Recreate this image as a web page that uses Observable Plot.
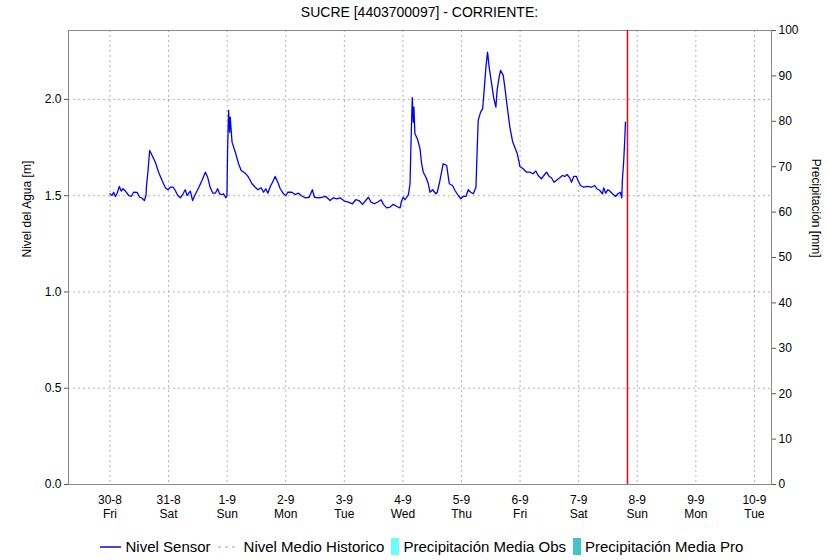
<!DOCTYPE html>
<html>
<head>
<meta charset="utf-8">
<script src="https://cdn.jsdelivr.net/npm/d3@7"></script>
<script src="https://cdn.jsdelivr.net/npm/@observablehq/plot@0.6"></script>
<style>
  html, body { margin: 0; padding: 0; background: #fff; }
  #wrap { position: relative; width: 828px; height: 560px; font-family: "Liberation Sans", Arial, sans-serif; }
  #title { position: absolute; top: 4px; left: 68px; width: 703px; text-align: center; font-size: 14px; color: #000; }
  #legend { position: absolute; top: 538px; left: 0; width: 850px; display: flex; justify-content: center; align-items: center; font-size: 15px; color: #000; white-space: nowrap; }
  .li { display: flex; align-items: center; margin-right: 7px; }
  .sw { display: inline-block; margin-right: 4px; }
  svg { font-family: "Liberation Sans", Arial, sans-serif; }
</style>
</head>
<body>
<div id="wrap">
  <div id="chart"></div>
  <div id="title"></div>
  <div id="legend"></div>
</div>
<script>
// ---- data ----
const titleText = "SUCRE [4403700097] - CORRIENTE:";
const yLabel = "Nivel del Agua [m]";
const y2Label = "Precipitación [mm]";
const seriesNames = ["Nivel Sensor", "Nivel Medio Historico", "Precipitación Media Obs", "Precipitación Media Pro"];
const seriesColors = ["#0000ff", "#c0c0c0", "#66ffff", "#44c4c4"];
const nowColor = "red";

const domainStart = "2024-08-29 07:00";
const domainEnd = "2024-09-10 07:00";
const currentTime = "2024-09-07 20:00";
const yMax = 2.358;
const y2Max = 100;

const dayTicks = ["2024-08-30","2024-08-31","2024-09-01","2024-09-02","2024-09-03","2024-09-04","2024-09-05","2024-09-06","2024-09-07","2024-09-08","2024-09-09","2024-09-10"];
const dayLabels = ["30-8","31-8","1-9","2-9","3-9","4-9","5-9","6-9","7-9","8-9","9-9","10-9"];
const weekdayLabels = ["Fri","Sat","Sun","Mon","Tue","Wed","Thu","Fri","Sat","Sun","Mon","Tue"];
const levelTicks = [0, 0.5, 1.0, 1.5, 2.0];
const precipTicks = [0,10,20,30,40,50,60,70,80,90,100];
const historicLevel = [0];

const times = [
"2024-08-30 00:00","2024-08-30 00:50","2024-08-30 01:30","2024-08-30 02:15","2024-08-30 02:55","2024-08-30 03:50","2024-08-30 04:35","2024-08-30 05:20","2024-08-30 06:20","2024-08-30 07:40",
"2024-08-30 08:40","2024-08-30 09:40","2024-08-30 11:05","2024-08-30 12:10","2024-08-30 13:10","2024-08-30 14:05","2024-08-30 14:45","2024-08-30 14:55","2024-08-30 15:35","2024-08-30 16:15",
"2024-08-30 17:15","2024-08-30 18:35","2024-08-30 19:55","2024-08-30 21:20","2024-08-30 22:40","2024-08-30 23:45","2024-08-31 00:45","2024-08-31 01:50","2024-08-31 02:45","2024-08-31 03:45",
"2024-08-31 04:50","2024-08-31 05:55","2024-08-31 06:50","2024-08-31 07:35","2024-08-31 08:15","2024-08-31 08:55","2024-08-31 09:50","2024-08-31 10:55","2024-08-31 12:20","2024-08-31 13:40",
"2024-08-31 15:05","2024-08-31 16:00","2024-08-31 17:05","2024-08-31 18:10","2024-08-31 19:10","2024-08-31 20:05","2024-08-31 20:55","2024-08-31 21:50","2024-08-31 22:30","2024-08-31 23:30",
"2024-08-31 23:55","2024-09-01 00:10","2024-09-01 00:35","2024-09-01 01:00","2024-09-01 01:15","2024-09-01 02:00","2024-09-01 03:20","2024-09-01 04:40","2024-09-01 05:45","2024-09-01 07:25",
"2024-09-01 08:45","2024-09-01 10:10","2024-09-01 11:30","2024-09-01 12:35","2024-09-01 13:55","2024-09-01 14:55","2024-09-01 15:50","2024-09-01 16:40","2024-09-01 17:40","2024-09-01 18:35",
"2024-09-01 19:40","2024-09-01 20:45","2024-09-01 21:45","2024-09-01 23:05","2024-09-02 00:05","2024-09-02 00:50","2024-09-02 02:30","2024-09-02 03:50","2024-09-02 05:15","2024-09-02 06:20",
"2024-09-02 07:55","2024-09-02 09:35","2024-09-02 10:55","2024-09-02 11:45","2024-09-02 13:25","2024-09-02 15:00","2024-09-02 16:25","2024-09-02 18:10","2024-09-02 19:30","2024-09-02 20:55",
"2024-09-02 22:15","2024-09-03 00:00","2024-09-03 01:40","2024-09-03 03:20","2024-09-03 04:40","2024-09-03 06:00","2024-09-03 07:25","2024-09-03 08:45","2024-09-03 09:50","2024-09-03 10:55",
"2024-09-03 12:20","2024-09-03 13:40","2024-09-03 15:05","2024-09-03 16:00","2024-09-03 17:20","2024-09-03 18:45","2024-09-03 20:05","2024-09-03 21:30","2024-09-03 22:50","2024-09-03 23:30",
"2024-09-04 00:10","2024-09-04 00:50","2024-09-04 02:15","2024-09-04 02:55","2024-09-04 03:20","2024-09-04 03:50","2024-09-04 04:15","2024-09-04 04:30","2024-09-04 04:55","2024-09-04 05:55",
"2024-09-04 07:00","2024-09-04 07:40","2024-09-04 08:20","2024-09-04 09:25","2024-09-04 10:25","2024-09-04 11:05","2024-09-04 12:10","2024-09-04 13:30","2024-09-04 14:05","2024-09-04 15:10",
"2024-09-04 16:30","2024-09-04 17:55","2024-09-04 19:00","2024-09-04 20:20","2024-09-04 21:20","2024-09-04 22:40","2024-09-04 23:45","2024-09-05 00:40","2024-09-05 01:50","2024-09-05 02:45",
"2024-09-05 03:45","2024-09-05 04:50","2024-09-05 05:55","2024-09-05 06:25","2024-09-05 06:50","2024-09-05 07:50","2024-09-05 08:40","2024-09-05 09:10","2024-09-05 10:00","2024-09-05 10:40",
"2024-09-05 11:20","2024-09-05 12:20","2024-09-05 13:15","2024-09-05 14:05","2024-09-05 14:35","2024-09-05 15:25","2024-09-05 16:00","2024-09-05 17:05","2024-09-05 17:45","2024-09-05 18:45",
"2024-09-05 19:50","2024-09-05 20:55","2024-09-05 21:50","2024-09-05 22:50","2024-09-05 23:35","2024-09-05 23:55","2024-09-06 01:15","2024-09-06 02:40","2024-09-06 04:00","2024-09-06 05:20",
"2024-09-06 06:25","2024-09-06 07:25","2024-09-06 08:45","2024-09-06 09:45","2024-09-06 10:50","2024-09-06 11:55","2024-09-06 12:50","2024-09-06 13:55","2024-09-06 15:10","2024-09-06 16:15",
"2024-09-06 17:20","2024-09-06 18:20","2024-09-06 19:15","2024-09-06 20:20","2024-09-06 21:05","2024-09-06 22:00","2024-09-06 23:05","2024-09-06 23:45","2024-09-07 00:45","2024-09-07 02:05",
"2024-09-07 03:25","2024-09-07 05:15","2024-09-07 06:35","2024-09-07 07:30","2024-09-07 08:40","2024-09-07 09:45","2024-09-07 10:15","2024-09-07 11:05","2024-09-07 12:00","2024-09-07 12:45",
"2024-09-07 13:50","2024-09-07 15:10","2024-09-07 16:05","2024-09-07 17:05","2024-09-07 17:40","2024-09-07 17:55","2024-09-07 18:25","2024-09-07 18:50","2024-09-07 19:10"
];
const levels = [
1.510,1.501,1.518,1.496,1.513,1.548,1.524,1.536,1.524,1.501,
1.496,1.518,1.517,1.492,1.487,1.475,1.501,1.544,1.631,1.735,
1.709,1.674,1.622,1.579,1.541,1.531,1.544,1.544,1.527,1.501,
1.489,1.510,1.531,1.501,1.513,1.524,1.475,1.506,1.541,1.579,
1.622,1.596,1.541,1.513,1.513,1.536,1.510,1.506,1.510,1.489,
1.501,1.735,1.943,1.830,1.908,1.778,1.726,1.666,1.631,1.617,
1.596,1.562,1.544,1.531,1.541,1.518,1.536,1.513,1.548,1.570,
1.600,1.570,1.536,1.510,1.501,1.518,1.518,1.506,1.513,1.501,
1.489,1.492,1.531,1.492,1.489,1.492,1.496,1.475,1.489,1.484,
1.489,1.472,1.467,1.458,1.479,1.475,1.455,1.475,1.492,1.467,
1.458,1.467,1.479,1.455,1.437,1.441,1.455,1.444,1.437,1.475,
1.492,1.479,1.506,1.562,1.787,2.009,1.882,1.960,1.822,1.796,
1.744,1.666,1.622,1.596,1.562,1.518,1.531,1.510,1.518,1.579,
1.666,1.657,1.562,1.553,1.527,1.501,1.484,1.496,1.496,1.531,
1.518,1.510,1.544,1.735,1.891,1.934,1.952,2.030,2.168,2.246,
2.168,2.082,2.004,1.960,2.047,2.116,2.151,2.125,2.064,1.960,
1.855,1.782,1.752,1.719,1.674,1.652,1.640,1.622,1.622,1.614,
1.628,1.605,1.588,1.605,1.622,1.600,1.593,1.570,1.583,1.593,
1.605,1.600,1.610,1.593,1.570,1.600,1.600,1.579,1.553,1.544,
1.548,1.544,1.553,1.536,1.527,1.510,1.541,1.513,1.531,1.524,
1.510,1.496,1.510,1.518,1.489,1.583,1.674,1.778,1.882
];

// ---- build ----
const parse = d3.utcParse("%Y-%m-%d %H:%M");
const parseDay = d3.utcParse("%Y-%m-%d");
const sensor = times.map((t, i) => ({t: parse(t), v: levels[i]}));
const tickDates = dayTicks.map(parseDay);
const labelOf = new Map(tickDates.map((d, i) => [+d, dayLabels[i] + "\n" + weekdayLabels[i]]));
const x0 = parse(domainStart), x1 = parse(domainEnd);
const gridStyle = {stroke: "#b4b4b4", strokeOpacity: 1, strokeDasharray: "2,3", strokeWidth: 1};
const nowData = [{t: parse(currentTime)}];

const chart = Plot.plot({
  width: 828,
  height: 560,
  marginTop: 30,
  marginBottom: 76,
  marginLeft: 68,
  marginRight: 57,
  style: {fontFamily: "'Liberation Sans', Arial, sans-serif", fontSize: "12px", color: "#000", background: "#fff"},
  x: {type: "utc", domain: [x0, x1]},
  y: {domain: [0, yMax]},
  marks: [
    Plot.gridX(tickDates, gridStyle),
    Plot.gridY(levelTicks.filter(d => d > 0), gridStyle),
    Plot.ruleY(historicLevel, {stroke: "#606060", strokeDasharray: "1,1", strokeWidth: 1.2}),
    Plot.frame({stroke: "#8a8a8a"}),
    Plot.line(sensor, {x: "t", y: "v", stroke: seriesColors[0], strokeWidth: 1.3}),
    Plot.ruleX(nowData, {x: "t", stroke: nowColor, strokeWidth: 1.5}),
    Plot.axisY(levelTicks, {anchor: "left", tickFormat: d3.format(".1f"), tickSize: 4, tickPadding: 3, label: null, stroke: "#555"}),
    Plot.axisY(precipTicks.map(p => p / y2Max * yMax), {anchor: "right", tickFormat: d => String(Math.round(d / yMax * y2Max)), tickSize: 4, tickPadding: 3, label: null, stroke: "#555"}),
    Plot.axisX(tickDates, {anchor: "bottom", tickSize: 0, tickPadding: 9, tickFormat: d => labelOf.get(+d), label: null, lineHeight: 1.2}),
    Plot.text([yLabel], {frameAnchor: "left", dx: -41, rotate: -90, text: d => d, fontSize: 12}),
    Plot.text([y2Label], {frameAnchor: "right", dx: 44, rotate: 90, text: d => d, fontSize: 12})
  ]
});
document.getElementById("chart").appendChild(chart);
document.getElementById("title").textContent = titleText;

// legend
const lg = document.getElementById("legend");
const swatches = [
  `<svg class="sw" width="22" height="10"><line x1="0" y1="5" x2="21" y2="5" stroke="${seriesColors[0]}" stroke-width="1.5"/></svg>`,
  `<svg class="sw" width="22" height="10"><line x1="0" y1="5" x2="21" y2="5" stroke="${seriesColors[1]}" stroke-width="1.5" stroke-dasharray="3,4"/></svg>`,
  `<span class="sw" style="width:8px;height:17px;background:${seriesColors[2]}"></span>`,
  `<span class="sw" style="width:8px;height:17px;background:${seriesColors[3]}"></span>`
];
seriesNames.forEach((n, i) => {
  const el = document.createElement("span");
  el.className = "li";
  el.innerHTML = swatches[i] + `<span>${n}</span>`;
  lg.appendChild(el);
});
</script>
</body>
</html>
